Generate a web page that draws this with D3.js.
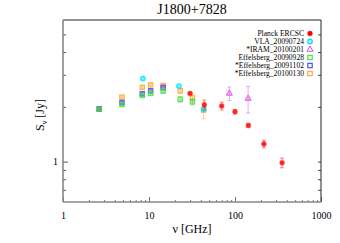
<!DOCTYPE html>
<html>
<head>
<meta charset="utf-8">
<script src="https://cdn.jsdelivr.net/npm/d3@7"></script>
<style>
body { margin: 0; background: #fff; }
svg text { font-family: "Liberation Serif", "DejaVu Serif", serif; }
</style>
</head>
<body>
<svg id="chart" width="340" height="243"></svg>
<script>
// data
var planckFreq = [30, 44, 70, 100, 143, 217, 353],
    planckFlux = [2.37, 2.05, 2.02, 1.88, 1.58, 1.25, 0.985],
    planckErr  = [0.04, 0.13, 0.10, 0.05, 0.04, 0.06, 0.06];

var vlaFreq = [8.5, 22.3, 43.3],
    vlaFlux = [2.86, 2.60, 1.94],
    vlaErr  = [0.04, 0.04, 0.04];

var iramFreq = [86, 142],
    iramFlux = [2.37, 2.22],
    iramErr  = [0.2, 0.37];

var eff0928Freq = [2.64, 4.85, 8.35, 10.45, 14.6, 23.05, 32],
    eff0928Flux = [1.94, 2.06, 2.31, 2.37, 2.44, 2.20, 2.13],
    eff0928Err  = [0.02, 0.03, 0.03, 0.03, 0.04, 0.08, 0.08];

var eff1102Freq = [2.64, 4.85, 8.35, 10.45, 14.6],
    eff1102Flux = [1.95, 2.11, 2.36, 2.45, 2.55],
    eff1102Err  = [0.02, 0.03, 0.04, 0.04, 0.08];

var eff0130Freq = [2.64, 4.85, 8.35, 10.45, 14.6, 23.05, 32, 43],
    eff0130Flux = [1.94, 2.26, 2.56, 2.64, 2.62, 2.45, 2.24, 1.92],
    eff0130Err  = [0.02, 0.04, 0.05, 0.04, 0.05, 0.08, 0.12, 0.2];

var seriesNames = ["Planck ERCSC", "VLA_20090724", "*IRAM_20100201",
                   "Effelsberg_20090928", "*Effelsberg_20091102", "*Effelsberg_20100130"];
var seriesColors = ["#ff0000", "#00e5ff", "#dd44dd", "#3fdc3f", "#3f3fff", "#ffa030"];
var seriesShapes = ["dot", "circle", "triangle", "square", "square", "square"];

var xTicks = [1, 10, 100, 1000];
var yTicks = [1];

var svg = d3.select("#chart");
var pLeft = 63, pRight = 321, pTop = 20, pBottom = 202;

var x = d3.scaleLog().domain([1, 1000]).range([pLeft, pRight]);
var y = d3.scaleLog().domain([0.6, 6]).range([pBottom, pTop]);

function makeSeries(f, s, e) {
    return f.map(function(d, i){ return {f: d, s: s[i], e: e[i]}; });
}
var allSeries = [
    makeSeries(planckFreq, planckFlux, planckErr),
    makeSeries(vlaFreq, vlaFlux, vlaErr),
    makeSeries(iramFreq, iramFlux, iramErr),
    makeSeries(eff0928Freq, eff0928Flux, eff0928Err),
    makeSeries(eff1102Freq, eff1102Flux, eff1102Err),
    makeSeries(eff0130Freq, eff0130Flux, eff0130Err)
];

// minor ticks
var xMinor = [];
for (var dec = 1; dec < 1000; dec *= 10)
    for (var k = 2; k < 10; k++) xMinor.push(dec * k);
var yMinor = [0.7, 0.8, 0.9, 2, 3, 4, 5];

// axes
svg.append("g")
    .attr("transform", "translate(0," + pBottom + ")")
    .call(d3.axisBottom(x).tickValues(xTicks).tickSize(-5).tickPadding(10)
        .tickFormat(d3.format("d")))
    .call(function(g){
        g.select(".domain").remove();
        g.selectAll("line").attr("stroke", "#777");
        g.selectAll("text").attr("font-size", 10).attr("fill", "#000");
    });
svg.append("g")
    .attr("transform", "translate(0," + pBottom + ")")
    .call(d3.axisBottom(x).tickValues(xMinor).tickSize(-2).tickFormat(""))
    .call(function(g){
        g.select(".domain").remove();
        g.selectAll("line").attr("stroke", "#777");
    });

svg.append("g")
    .attr("transform", "translate(" + pLeft + ",0)")
    .call(d3.axisLeft(y).tickValues(yTicks).tickSize(-5).tickPadding(5)
        .tickFormat(d3.format("d")))
    .call(function(g){
        g.select(".domain").remove();
        g.selectAll("line").attr("stroke", "#555");
        g.selectAll("text").attr("font-size", 10).attr("fill", "#000");
    });
svg.append("g")
    .attr("transform", "translate(" + pLeft + ",0)")
    .call(d3.axisLeft(y).tickValues(yMinor).tickSize(-3).tickFormat(""))
    .call(function(g){
        g.select(".domain").remove();
        g.selectAll("line").attr("stroke", "#555");
    });
svg.append("g")
    .attr("transform", "translate(" + pRight + ",0)")
    .call(d3.axisRight(y).tickValues(yTicks.concat(yMinor)).tickSize(-3).tickFormat(""))
    .call(function(g){
        g.select(".domain").remove();
        g.selectAll("line").attr("stroke", "#444");
    });

// frame
svg.append("line").attr("x1", pLeft).attr("x2", pRight).attr("y1", pTop).attr("y2", pTop)
    .attr("stroke", "#222").attr("stroke-width", 1);
svg.append("line").attr("x1", pRight).attr("x2", pRight).attr("y1", pTop).attr("y2", pBottom)
    .attr("stroke", "#222").attr("stroke-width", 1);
svg.append("line").attr("x1", pLeft).attr("x2", pLeft).attr("y1", pTop).attr("y2", pBottom)
    .attr("stroke", "#888").attr("stroke-width", 1.6);
svg.append("line").attr("x1", pLeft).attr("x2", pRight).attr("y1", pBottom).attr("y2", pBottom)
    .attr("stroke", "#888").attr("stroke-width", 1.6);

// markers; fillOp gives the plotted points their soft filled look
function drawMarker(g, shape, color, cx, cy, fillOp) {
    if (shape == "dot") {
        g.append("circle").attr("cx", cx).attr("cy", cy).attr("r", 2.4)
            .attr("fill", color).attr("stroke", color).attr("stroke-opacity", 0.35)
            .attr("stroke-width", 1.2);
    } else if (shape == "circle") {
        g.append("circle").attr("cx", cx).attr("cy", cy).attr("r", 2.2)
            .attr("fill", color).attr("fill-opacity", fillOp)
            .attr("stroke", color).attr("stroke-width", 1.4);
    } else if (shape == "triangle") {
        g.append("path").attr("d", d3.symbol(d3.symbolTriangle, 16)())
            .attr("transform", "translate(" + cx + "," + cy + ")")
            .attr("fill", color).attr("fill-opacity", fillOp)
            .attr("stroke", color).attr("stroke-width", 1);
    } else {
        g.append("rect").attr("x", cx - 2.2).attr("y", cy - 2.2)
            .attr("width", 4.4).attr("height", 4.4)
            .attr("fill", color).attr("fill-opacity", fillOp)
            .attr("stroke", color).attr("stroke-width", 1.1);
    }
}

var plot = svg.append("g");
// draw from last series to first so Planck sits on top
for (var si = allSeries.length - 1; si >= 0; si--) {
    var col = seriesColors[si];
    var g = plot.append("g").attr("opacity", 0.85);
    g.selectAll("line.err")
        .data(allSeries[si])
        .enter()
        .append("line")
        .attr("x1", function(d){ return x(d.f); })
        .attr("x2", function(d){ return x(d.f); })
        .attr("y1", function(d){ return y(d.s - d.e); })
        .attr("y2", function(d){ return y(d.s + d.e); })
        .attr("stroke", col).attr("stroke-width", 0.8).attr("stroke-opacity", 0.7);
    [-1, 1].forEach(function(sign){
        g.selectAll("line.cap" + sign)
            .data(allSeries[si])
            .enter()
            .append("line")
            .attr("x1", function(d){ return x(d.f) - 2; })
            .attr("x2", function(d){ return x(d.f) + 2; })
            .attr("y1", function(d){ return y(d.s + sign * d.e); })
            .attr("y2", function(d){ return y(d.s + sign * d.e); })
            .attr("stroke", col).attr("stroke-width", 0.8).attr("stroke-opacity", 0.7);
    });
    allSeries[si].forEach(function(d){
        drawMarker(g, seriesShapes[si], col, x(d.f), y(d.s), 0.4);
    });
}

// legend
var legend = svg.append("g");
seriesNames.forEach(function(name, i){
    var ly = 33.5 + i * 8;
    legend.append("text").attr("x", 304).attr("y", ly + 2.5)
        .attr("text-anchor", "end").attr("font-size", 7.6).text(name);
    drawMarker(legend, seriesShapes[i], seriesColors[i], 310, ly, 0);
});

// titles
svg.append("text").attr("x", (pLeft + pRight) / 2).attr("y", 14)
    .attr("text-anchor", "middle").attr("font-size", 14).text("J1800+7828");
svg.append("text").attr("x", (pLeft + pRight) / 2).attr("y", 233)
    .attr("text-anchor", "middle").attr("font-size", 12).text("ν [GHz]");
var yl = svg.append("text")
    .attr("transform", "translate(44,115) rotate(-90)")
    .attr("text-anchor", "middle").attr("font-size", 12);
yl.append("tspan").text("S");
yl.append("tspan").attr("font-size", 8).attr("dy", 3).text("ν");
yl.append("tspan").attr("dy", -3).text(" [Jy]");
</script>
</body>
</html>
